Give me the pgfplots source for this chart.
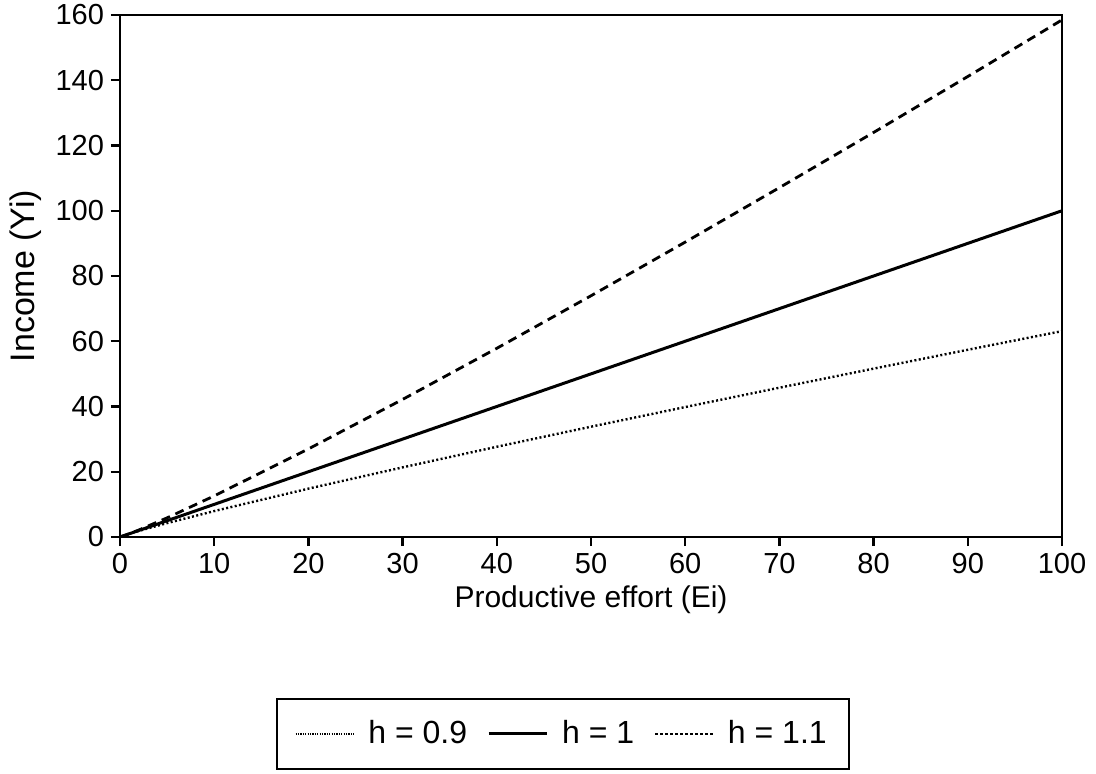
\documentclass[border=0pt]{standalone}
\usepackage{fontspec}
\setmainfont{Liberation Sans}
\usepackage{pgfplots}
\pgfplotsset{compat=1.18}
\begin{document}
\begin{tikzpicture}
\path[use as bounding box] (-60pt,-118.5pt) rectangle (488pt,268.5pt);
\begin{axis}[
  scale only axis,
  width=471pt, height=261pt,
  xmin=0, xmax=100, ymin=0, ymax=160,
  xtick={0,10,...,100}, ytick={0,20,...,160},
  axis line style={line width=1.3pt},
  tick style={line width=1.2pt, black},
  tick align=outside, major tick length=4.5pt,
  xtick pos=bottom, ytick pos=left,
  /pgf/number format/assume math mode=true,
  ticklabel style={font=\fontsize{14.5}{16}\selectfont},
  xlabel={Productive effort (Ei)},
  ylabel={Income (Yi)},
  xlabel style={font=\fontsize{15}{17}\selectfont, yshift=1pt},
  ylabel style={font=\fontsize{17}{19}\selectfont, yshift=0pt},
  legend columns=3,
  legend style={at={(0.47,-0.308)}, anchor=north, draw=black, line width=0.9pt,
    font=\fontsize{16}{18}\selectfont, inner xsep=9pt, inner ysep=9pt,
    /tikz/every odd column/.append style={column sep=5pt},
    /tikz/every even column/.append style={column sep=8pt}},
  legend image code/.code={\draw[#1] (0pt,0pt) -- (29pt,0pt);},
]
\addplot[black, line width=1.2pt, dash pattern=on 1pt off 1.2pt,
  legend image code/.code={\draw[black, line width=0.8pt, dash pattern=on 0.6pt off 0.6pt] (0pt,0pt) -- (29pt,0pt);}] coordinates {
(0,0) (1,1) (2,1.866) (5,4.257) (10,7.943) (20,14.82) (30,21.34) (40,27.66) (50,33.81) (60,39.83) (70,45.76) (80,51.61) (90,57.39) (100,63.10)};
\addlegendentry{h = 0.9}
\addplot[black, line width=1.5pt] coordinates {
(0,0) (10,10) (20,20) (30,30) (40,40) (50,50) (60,60) (70,70) (80,80) (90,90) (100,100)};
\addlegendentry{h = 1}
\addplot[black, line width=1.4pt, dash pattern=on 4.5pt off 3pt,
  legend image code/.code={\draw[black, line width=0.9pt, dash pattern=on 1.4pt off 1.1pt] (0pt,0pt) -- (29pt,0pt);}] coordinates {
(0,0) (1,1) (2,2.144) (5,5.873) (10,12.59) (20,26.99) (30,42.17) (40,57.84) (50,73.94) (60,90.39) (70,107.08) (80,124.00) (90,141.15) (100,158.49)};
\addlegendentry{h = 1.1}
\end{axis}
\end{tikzpicture}
\end{document}
